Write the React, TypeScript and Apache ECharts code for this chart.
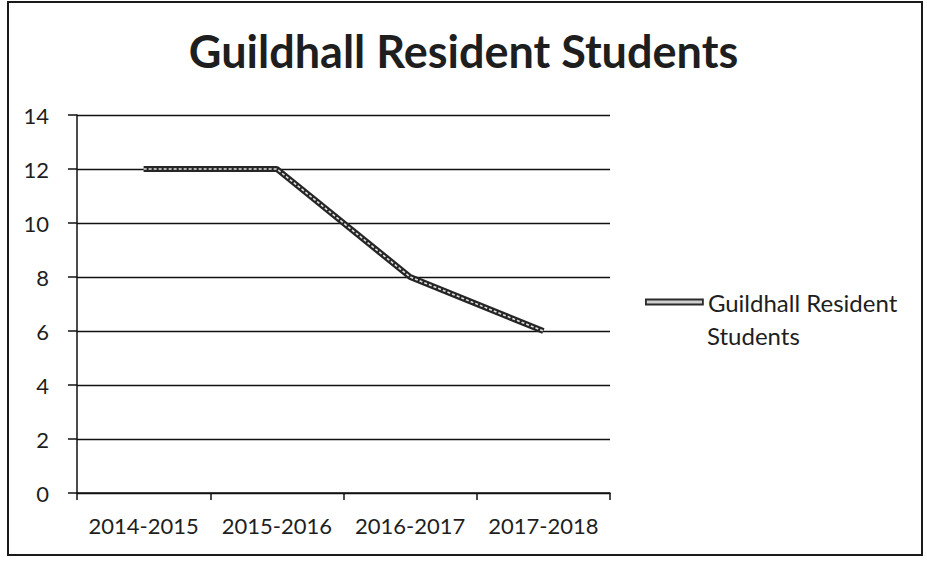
import React, { useEffect, useRef } from "react";
import * as echarts from "echarts";

const categories = ["2014-2015", "2015-2016", "2016-2017", "2017-2018"];
const residents = [12, 12, 8, 6];
const seriesName = "Guildhall Resident Students";
const legendLines = ["Guildhall Resident", "Students"];
const yTicks = { min: 0, max: 14, interval: 2 };

export default function App() {
  const ref = useRef<HTMLDivElement>(null);
  useEffect(() => {
    if (!ref.current) return;
    const chart = echarts.init(ref.current, null, { renderer: "svg" });
    const font = "Lato, 'Open Sans', sans-serif";
    chart.setOption({
      animation: false,
      backgroundColor: "#ffffff",
      title: {
        text: "Guildhall Resident Students",
        left: "center",
        top: 23,
        textStyle: { fontFamily: font, fontSize: 45, fontWeight: "bold", color: "#1e1e1e" },
      },
      legend: {
        data: [{ name: seriesName, icon: "rect" }],
        left: 640,
        top: 285,
        orient: "vertical",
        itemWidth: 57,
        itemHeight: 5,
        formatter: () => legendLines[0],
        itemStyle: { color: "#cfcfcf", borderColor: "#2a2a2a", borderWidth: 1.8 },
        textStyle: { fontFamily: font, fontSize: 24, color: "#1e1e1e", lineHeight: 24 },
      },
      grid: { left: 77, right: 317, top: 115, bottom: 68, containLabel: false },
      xAxis: {
        type: "category",
        data: categories,
        boundaryGap: true,
        axisLine: { lineStyle: { color: "#111", width: 1.5 } },
        axisTick: { show: true, interval: 0, length: 7, lineStyle: { color: "#111", width: 1.5 } },
        axisLabel: { interval: 0, fontFamily: font, fontSize: 22, color: "#1e1e1e", margin: 21 },
      },
      yAxis: {
        type: "value",
        min: yTicks.min,
        max: yTicks.max,
        interval: yTicks.interval,
        axisLine: { show: true, lineStyle: { color: "#111", width: 1.5 } },
        axisTick: { show: true, length: 9, lineStyle: { color: "#111", width: 1.5 } },
        axisLabel: { fontFamily: font, fontSize: 22, color: "#1e1e1e", margin: 28 },
        splitLine: { show: true, lineStyle: { color: "#111", width: 1.3 } },
      },
      graphic: [
        {
          type: "rect",
          shape: { x: 8, y: 2, width: 914, height: 553 },
          style: { fill: "none", stroke: "#1a1a1a", lineWidth: 2 },
          silent: true,
        },
        {
          type: "text",
          left: 707,
          top: 323,
          style: { text: legendLines[1], font: `24px ${font}`, fill: "#1e1e1e" },
          silent: true,
        },
      ],
      series: [
        {
          name: seriesName,
          type: "line",
          data: residents,
          symbol: "none",
          lineStyle: { color: "#262626", width: 6 },
          z: 3,
        },
        {
          name: "inner",
          type: "line",
          data: residents,
          symbol: "none",
          lineStyle: { color: "#e0e0e0", width: 1.6, type: [3, 2] },
          z: 4,
        },
      ],
    });
    return () => chart.dispose();
  }, []);
  return (
    <div
      ref={ref}
      style={{ position: "fixed", left: 0, top: 0, width: 927, height: 561 }}
    />
  );
}
